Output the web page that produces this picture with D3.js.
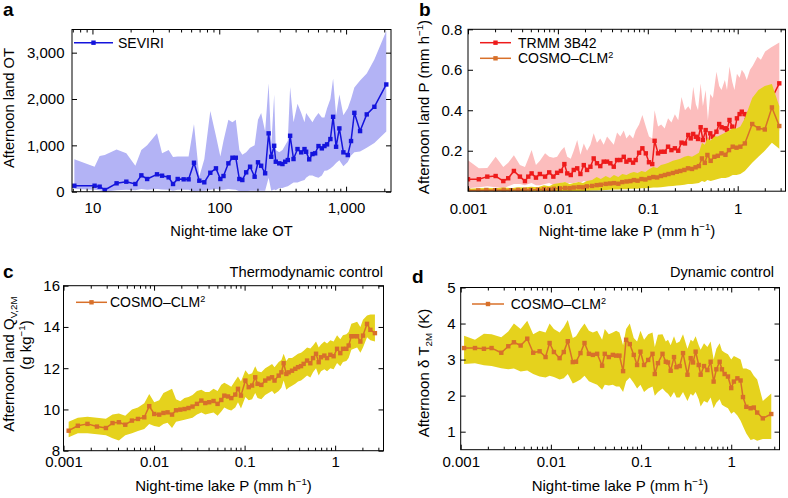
<!DOCTYPE html>
<html><head><meta charset="utf-8">
<script src="https://cdn.jsdelivr.net/npm/d3@7"></script>
<style>
body{margin:0;background:#fff}
svg{display:block}
text{font-family:"Liberation Sans",Arial,Helvetica,sans-serif}
</style>
</head><body>
<svg id="fig" width="788" height="498"></svg>
<script>
// ---------- Panel a : SEVIRI ----------
const seviriX = [7.2,10.4,11.4,12.5,15.5,18.5,21.8,24.3,27,32.3,35.4,39.9,43.2,47,52.4,57.3,63.2,69.6,76.2,85,94.2,102,108,118,127,135,144,152,163,175,190,202,214,230,245,257,271,279,297,315,331,347,362,385,414,443,470,484,512,543,570,606,644,675,708,752,790,834,885,952,1031,1094,1162,1289,1455,1671,2075];
const seviriY = [129,129,108,37,181,216,166,353,274,375,345,310,166,274,267,267,625,237,203,409,504,274,338,612,733,733,274,252,418,539,323,634,560,397,1259,754,991,647,612,597,647,683,1207,705,920,849,920,862,698,812,828,985,935,985,1021,1136,1616,970,1366,849,791,1093,1702,1308,1668,1832,2314];
const seviriLo = [60,40,30,0,30,40,30,60,40,60,50,40,20,40,40,40,0,20,20,40,60,40,40,60,50,40,10,10,10,20,20,20,20,20,300,20,50,30,80,80,100,120,150,200,200,230,250,300,350,350,320,300,350,450,460,500,550,620,680,550,640,780,850,870,950,1050,1300];
const seviriHi = [700,540,770,790,910,830,560,900,1000,1260,830,900,750,760,760,760,1460,330,700,1740,1200,760,1100,1550,1500,1550,900,800,850,950,1000,1550,1700,1300,2340,1000,2100,900,850,900,1000,1100,2260,1500,1900,1700,1500,1700,1600,1500,1600,1700,1600,1600,1800,2000,2440,1650,2100,1650,1800,2000,2250,2400,2550,2850,3470];
const aXTicks = [10,100,1000];
const aYTicks = [0,1000,2000,3000];

// ---------- Panel b : TRMM 3B42 and COSMO-CLM2 ----------
const trmmX = [0.001,0.00132,0.00164,0.00203,0.00247,0.0028,0.00324,0.00378,0.0043,0.00468,0.0051,0.0057,0.0063,0.0072,0.008,0.0089,0.0098,0.0108,0.0118,0.0127,0.0139,0.015,0.0164,0.0178,0.0194,0.0211,0.023,0.025,0.0272,0.0296,0.0323,0.0352,0.0383,0.0418,0.0455,0.0495,0.054,0.0578,0.0627,0.0686,0.0733,0.08,0.087,0.095,0.103,0.112,0.119,0.13,0.141,0.154,0.168,0.183,0.2,0.218,0.237,0.259,0.282,0.3,0.32,0.342,0.362,0.387,0.41,0.44,0.466,0.495,0.53,0.58,0.622,0.66,0.72,0.76,0.81,0.87,0.92,0.98,1.05,1.11,1.19,1.26,1.37,1.47,1.66,1.81,2.02,2.34,2.9];
const trmmY = [0.059,0.059,0.072,0.075,0.05,0.064,0.1,0.072,0.05,0.072,0.088,0.067,0.085,0.072,0.093,0.072,0.091,0.1,0.134,0.088,0.08,0.105,0.113,0.085,0.129,0.105,0.121,0.162,0.138,0.124,0.146,0.146,0.138,0.121,0.154,0.154,0.17,0.146,0.154,0.141,0.154,0.19,0.212,0.187,0.143,0.134,0.249,0.187,0.195,0.195,0.22,0.203,0.212,0.2,0.24,0.236,0.278,0.261,0.283,0.269,0.258,0.316,0.253,0.302,0.212,0.286,0.269,0.294,0.332,0.316,0.311,0.302,0.352,0.319,0.294,0.36,0.381,0.393,0.381,0.352,0.385,0.38,0.418,0.434,0.459,0.45,0.533];
const trmmLo = [0.015,0.02,0.025,0.02,0.015,0.025,0.035,0.035,0.03,0.035,0.04,0.03,0.03,0.035,0.04,0.03,0.035,0.04,0.045,0.04,0.04,0.04,0.045,0.04,0.05,0.045,0.045,0.05,0.05,0.05,0.05,0.055,0.055,0.05,0.06,0.06,0.065,0.06,0.065,0.06,0.065,0.075,0.08,0.08,0.07,0.07,0.09,0.09,0.09,0.095,0.1,0.1,0.1,0.1,0.11,0.11,0.12,0.12,0.13,0.13,0.13,0.14,0.13,0.14,0.1,0.14,0.14,0.15,0.16,0.16,0.16,0.16,0.18,0.17,0.16,0.19,0.2,0.2,0.2,0.19,0.2,0.21,0.22,0.23,0.24,0.26,0.3];
const trmmHi = [0.153,0.113,0.115,0.17,0.12,0.14,0.178,0.13,0.12,0.16,0.203,0.13,0.15,0.187,0.17,0.165,0.17,0.2,0.219,0.17,0.16,0.2,0.253,0.18,0.236,0.2,0.23,0.286,0.24,0.26,0.23,0.27,0.25,0.23,0.29,0.27,0.3,0.26,0.28,0.26,0.3,0.33,0.376,0.32,0.27,0.26,0.4,0.32,0.33,0.31,0.36,0.34,0.38,0.35,0.466,0.4,0.42,0.4,0.516,0.43,0.4,0.532,0.42,0.5,0.35,0.48,0.46,0.59,0.52,0.5,0.55,0.5,0.616,0.54,0.5,0.58,0.56,0.6,0.58,0.55,0.6,0.62,0.664,0.65,0.69,0.71,0.735];
const cosmoBX = [0.001,0.0013,0.0016,0.002,0.0025,0.003,0.0036,0.0043,0.005,0.006,0.007,0.008,0.009,0.0105,0.012,0.0135,0.015,0.017,0.019,0.021,0.024,0.027,0.03,0.034,0.038,0.042,0.047,0.052,0.058,0.064,0.07,0.077,0.085,0.094,0.104,0.115,0.127,0.14,0.155,0.17,0.19,0.21,0.23,0.255,0.28,0.31,0.34,0.37,0.4,0.43,0.46,0.5,0.55,0.6,0.66,0.73,0.8,0.88,0.97,1.07,1.2,1.45,1.7,2.0,2.4,2.9];
const cosmoBY = [0.004,0.004,0.006,0.005,0.006,0.005,0.006,0.007,0.006,0.008,0.01,0.009,0.012,0.014,0.016,0.015,0.018,0.02,0.019,0.024,0.026,0.03,0.032,0.036,0.038,0.04,0.037,0.045,0.048,0.05,0.055,0.052,0.06,0.058,0.065,0.07,0.068,0.075,0.08,0.085,0.09,0.096,0.1,0.105,0.113,0.11,0.118,0.124,0.162,0.14,0.179,0.15,0.17,0.175,0.187,0.18,0.203,0.22,0.215,0.22,0.236,0.332,0.311,0.305,0.414,0.322];
const cosmoBLo = [0,0,0,0,0,0,0,0,0,0,0,0,0,0,0,0,0,0,0,0.002,0.003,0.004,0.005,0.006,0.007,0.008,0.008,0.01,0.01,0.012,0.012,0.012,0.014,0.014,0.016,0.018,0.018,0.02,0.022,0.024,0.026,0.028,0.03,0.032,0.035,0.035,0.038,0.04,0.05,0.045,0.055,0.05,0.055,0.06,0.065,0.065,0.07,0.08,0.08,0.085,0.1,0.14,0.17,0.2,0.24,0.21];
const cosmoBHi = [0.012,0.015,0.016,0.014,0.018,0.015,0.02,0.018,0.022,0.02,0.03,0.025,0.035,0.04,0.045,0.035,0.04,0.045,0.04,0.05,0.055,0.07,0.06,0.075,0.065,0.08,0.07,0.085,0.08,0.09,0.095,0.09,0.1,0.095,0.11,0.12,0.115,0.13,0.135,0.14,0.15,0.155,0.16,0.17,0.175,0.17,0.18,0.19,0.24,0.23,0.26,0.25,0.27,0.27,0.28,0.29,0.3,0.31,0.31,0.32,0.36,0.46,0.5,0.52,0.53,0.42];
const bYTicks = [0.2,0.4,0.6,0.8];

// ---------- Panel c : Q_V,2M ----------
const cX = [0.00114,0.00144,0.00184,0.00234,0.00294,0.00348,0.00409,0.00481,0.0057,0.00664,0.0078,0.00885,0.01005,0.0114,0.0127,0.0141,0.0158,0.0175,0.0195,0.0217,0.024,0.0266,0.0298,0.0333,0.0368,0.0407,0.0454,0.0503,0.0553,0.0597,0.0656,0.0713,0.0789,0.0845,0.0912,0.102,0.111,0.121,0.131,0.139,0.153,0.169,0.184,0.201,0.214,0.238,0.255,0.27,0.289,0.306,0.334,0.363,0.389,0.42,0.449,0.49,0.532,0.57,0.615,0.658,0.698,0.76,0.814,0.885,0.962,1.05,1.14,1.22,1.33,1.41,1.51,1.63,1.75,1.9,2.03,2.25,2.45,2.75];
const cY = [8.97,9.21,9.30,9.17,9.10,9.34,9.38,9.26,9.46,9.54,9.62,10.16,9.78,9.75,9.83,9.86,9.75,9.96,9.99,10.02,10.07,10.14,10.27,10.43,10.31,10.35,10.41,10.27,10.46,10.67,10.63,10.55,10.72,11.0,10.67,11.4,11.08,11.16,11.56,11.24,11.19,11.4,11.5,11.56,11.4,11.64,11.8,12.24,11.72,11.8,11.88,11.97,12.05,12.1,12.21,12.37,12.24,12.49,12.7,12.29,12.53,12.61,12.49,12.65,12.58,12.94,12.73,12.94,12.94,13.1,13.55,13.55,13.55,13.29,13.58,14.15,13.86,13.7];
const cLo = [8.65,8.85,8.85,8.8,8.75,8.6,8.5,8.75,8.85,8.95,9.05,9.3,9.2,9.15,9.3,9.35,9.1,9.4,9.45,9.5,9.55,9.6,9.75,9.85,9.75,9.8,9.85,9.7,9.9,10.1,10.0,9.95,10.1,10.35,10.05,10.6,10.45,10.5,10.8,10.55,10.5,10.7,10.8,10.9,10.75,10.9,11.05,11.4,10.95,11.05,11.15,11.25,11.35,11.4,11.5,11.65,11.55,11.8,12.0,11.65,11.85,11.95,11.85,12.0,11.95,12.25,12.1,12.3,12.35,12.5,12.9,12.95,13.0,12.75,13.0,13.5,13.35,13.3];
const cHi = [9.4,9.6,9.65,9.6,9.55,9.75,9.8,9.7,10.0,10.1,10.3,10.75,10.35,10.45,10.8,10.9,11.0,10.5,10.4,10.55,10.6,10.7,10.9,10.95,10.85,10.85,11.0,10.9,11.2,11.3,11.2,11.1,11.4,11.6,11.35,11.9,11.7,11.75,12.1,11.85,11.8,12.0,12.1,12.2,12.05,12.3,12.4,12.7,12.35,12.5,12.5,12.6,12.7,12.75,12.85,13.0,12.95,13.1,13.3,13.0,13.15,13.3,13.2,13.35,13.3,13.6,13.4,13.6,13.65,13.75,14.15,14.2,14.25,14.0,14.35,14.55,14.6,14.6];
const cYTicks = [8,10,12,14,16];

// ---------- Panel d : delta T_2M ----------
const dX = [0.00109,0.00144,0.00181,0.0022,0.00282,0.00337,0.00389,0.00462,0.00547,0.00637,0.0075,0.00873,0.00968,0.0108,0.0125,0.0139,0.0154,0.0175,0.019,0.0213,0.0236,0.0264,0.0292,0.0326,0.037,0.0396,0.0439,0.0486,0.0529,0.0576,0.0632,0.0683,0.075,0.083,0.0904,0.0985,0.108,0.12,0.134,0.142,0.154,0.173,0.188,0.199,0.213,0.232,0.247,0.268,0.292,0.327,0.355,0.377,0.403,0.436,0.458,0.499,0.544,0.591,0.638,0.684,0.744,0.789,0.845,0.92,1.0,1.07,1.17,1.27,1.35,1.47,1.64,1.78,1.94,2.24,2.78];
const dY = [3.32,3.32,3.30,3.32,3.19,3.37,3.48,3.39,3.58,3.19,3.23,3.07,3.46,3.21,3.04,3.21,3.51,2.93,2.94,3.18,3.46,3.16,3.13,3.16,2.83,3.16,3.07,3.13,3.11,3.11,2.68,3.55,3.43,3.13,2.85,3.22,2.85,2.99,3.16,2.6,2.9,3.16,2.94,2.92,2.69,3.07,2.79,2.82,3.18,2.58,3.04,2.92,3.22,2.85,2.58,2.82,2.71,2.94,2.39,2.73,2.94,2.73,2.6,2.53,2.21,2.39,2.48,2.42,1.96,1.69,1.65,1.67,1.53,1.37,1.49];
const dLo = [2.88,2.9,2.84,2.82,2.76,2.73,2.75,2.67,2.7,2.6,2.53,2.5,2.55,2.52,2.45,2.48,2.6,2.34,2.38,2.45,2.55,2.4,2.35,2.3,2.16,2.3,2.28,2.3,2.25,2.25,2.1,2.4,2.5,2.35,2.2,2.3,2.1,2.2,2.25,2.0,2.1,2.2,2.1,2.05,1.95,2.1,1.95,1.95,2.1,1.85,2.05,2.0,2.1,1.9,1.7,1.85,1.8,1.95,1.65,1.8,1.9,1.75,1.7,1.65,1.5,1.55,1.45,1.3,1.15,0.95,0.77,0.8,0.75,0.8,0.8];
const dHi = [3.66,3.55,3.72,3.7,3.62,3.78,4.0,3.85,4.08,3.7,3.8,3.75,4.0,3.85,3.75,3.9,4.1,3.6,3.65,3.85,4.0,3.8,3.75,3.8,3.55,3.85,3.7,3.75,3.8,3.75,3.4,3.85,4.0,3.6,3.5,3.8,3.55,3.7,3.75,3.35,3.69,3.7,3.5,3.55,3.4,3.65,3.45,3.5,3.7,3.3,3.55,3.5,3.65,3.4,3.27,3.45,3.35,3.5,3.0,3.3,3.45,3.25,3.2,3.15,3.0,3.1,3.05,3.0,2.75,2.75,2.7,2.55,2.45,1.85,2.06];
const dYTicks = [1,2,3,4,5];

const pXTicks = [0.001,0.01,0.1,1];
const pXLabels = ["0.001","0.01","0.1","1"];

// ---------- colours ----------
const C_BLUE = "#1414dc", C_BLUE_BAND = "#b3b3f5";
const C_RED = "#ee1b1b", C_PINK = "#fcbdbd";
const C_ORANGE = "#d8702a", C_YELLOW = "#e5d21d";
const FONT = '"Liberation Sans", Arial, Helvetica, sans-serif';
const TICK_FS = 15, TITLE_FS = 15, LEG_FS = 14;

const svg = d3.select("#fig");

function rich(sel, parts, size) {
  parts.forEach(p => {
    const t = sel.append("tspan").text(p.t);
    if (p.sup) t.attr("font-size", size*0.65).attr("dy", -size*0.38);
    else if (p.sub) t.attr("font-size", size*0.65).attr("dy", size*0.22);
    if (p.back !== undefined) t.attr("dy", p.back*size);
  });
}

function logMinor(dom) {
  const out = [];
  for (let e = Math.floor(Math.log10(dom[0])); e <= Math.ceil(Math.log10(dom[1])); e++)
    for (let k = 2; k <= 9; k++) { const v = k*Math.pow(10,e); if (v >= dom[0] && v <= dom[1]) out.push(v); }
  return out;
}

function styleAxis(g) {
  g.select(".domain").remove();
  g.attr("font-family", FONT).attr("font-size", TICK_FS);
  g.selectAll("line").attr("stroke", "#000");
  g.selectAll("text").attr("fill", "#000");
}

function drawPanel(p) {
  const x = d3.scaleLog().domain(p.xDomain).range([p.left, p.right]);
  const y = d3.scaleLinear().domain(p.yDomain).range([p.bottom, p.top]);
  const g = svg.append("g");
  const clipId = "clip-" + p.id;
  svg.append("clipPath").attr("id", clipId).append("rect")
    .attr("x", p.left).attr("y", p.top).attr("width", p.right - p.left).attr("height", p.bottom - p.top);
  const plot = g.append("g").attr("clip-path", `url(#${clipId})`);

  p.layers.forEach(L => {
    if (L.type === "band") {
      const area = d3.area().x((d,i) => x(L.x[i])).y0((d,i) => y(L.lo[i])).y1((d,i) => y(L.hi[i]));
      plot.append("path").datum(L.x).attr("d", area).attr("fill", L.color);
    } else {
      const line = d3.line().x((d,i) => x(L.x[i])).y((d,i) => y(L.y[i]));
      plot.append("path").datum(L.x).attr("d", line).attr("fill", "none")
        .attr("stroke", L.color).attr("stroke-width", 1.5).attr("stroke-linejoin", "round");
      const s = 4.4;
      plot.append("g").selectAll("rect").data(L.x).enter().append("rect")
        .attr("x", (d,i) => x(L.x[i]) - s/2).attr("y", (d,i) => y(L.y[i]) - s/2)
        .attr("width", s).attr("height", s).attr("fill", L.color);
    }
  });

  // axes (inward ticks on all four sides)
  const minor = logMinor(p.xDomain);
  const bot = g.append("g").attr("transform", `translate(0,${p.bottom})`)
    .call(d3.axisBottom(x).tickValues(p.xTicks).tickFormat((d,i) => p.xLabels[i]).tickSize(-5).tickPadding(p.xPad));
  styleAxis(bot);
  const botMin = g.append("g").attr("transform", `translate(0,${p.bottom})`)
    .call(d3.axisBottom(x).tickValues(minor).tickFormat("").tickSize(-3));
  styleAxis(botMin);
  const top = g.append("g").attr("transform", `translate(0,${p.top})`)
    .call(d3.axisTop(x).tickValues(p.xTicks).tickFormat("").tickSize(-5));
  styleAxis(top);
  const topMin = g.append("g").attr("transform", `translate(0,${p.top})`)
    .call(d3.axisTop(x).tickValues(minor).tickFormat("").tickSize(-3));
  styleAxis(topMin);
  const left = g.append("g").attr("transform", `translate(${p.left},0)`)
    .call(d3.axisLeft(y).tickValues(p.yTicks).tickFormat(p.yFmt).tickSize(-5).tickPadding(p.yPad));
  styleAxis(left);
  const right = g.append("g").attr("transform", `translate(${p.right},0)`)
    .call(d3.axisRight(y).tickValues(p.yTicks).tickFormat("").tickSize(-5));
  styleAxis(right);

  g.append("rect").attr("x", p.left).attr("y", p.top)
    .attr("width", p.right - p.left).attr("height", p.bottom - p.top)
    .attr("fill", "none").attr("stroke", "#000").attr("stroke-width", 1);

  // legend
  p.legend.forEach(l => {
    g.append("line").attr("x1", l.x1).attr("x2", l.x2).attr("y1", l.y).attr("y2", l.y)
      .attr("stroke", l.color).attr("stroke-width", 1.5);
    g.append("rect").attr("x", (l.x1 + l.x2)/2 - 2.2).attr("y", l.y - 2.2).attr("width", 4.4).attr("height", 4.4).attr("fill", l.color);
    const t = g.append("text").attr("x", l.tx).attr("y", l.y + 5).attr("font-size", LEG_FS).attr("fill", "#000");
    rich(t, l.parts, LEG_FS);
  });

  // x title
  const xt = g.append("text").attr("x", p.xTitle.x).attr("y", p.xTitle.y)
    .attr("text-anchor", "middle").attr("font-size", p.titleFs).attr("fill", "#000");
  rich(xt, p.xTitle.parts, p.titleFs);
  // y title(s)
  p.yTitles.forEach(yt => {
    const t = g.append("text").attr("transform", `translate(${yt.x},${yt.y}) rotate(-90)`)
      .attr("text-anchor", "middle").attr("font-size", p.titleFs).attr("fill", "#000");
    rich(t, yt.parts, p.titleFs);
  });
  // panel letter
  g.append("text").attr("x", p.letter.x).attr("y", p.letter.y).attr("font-size", 19)
    .attr("font-weight", "bold").attr("fill", "#000").text(p.letter.t);
  if (p.note) {
    g.append("text").attr("x", p.note.x).attr("y", p.note.y).attr("text-anchor", "end")
      .attr("font-size", p.note.fs).attr("fill", "#000").text(p.note.t);
  }
}

const mmh = [{t:"Night-time lake P (mm h"},{t:"\u22121", sup:true},{t:")", back:0.38}];
const cosmoLegend = [{t:"COSMO\u2013CLM"},{t:"2", sup:true}];

drawPanel({
  id:"a", left:72, right:391, top:29.5, bottom:191.7,
  xDomain:[6.9, 2260], yDomain:[0, 3500],
  xTicks:aXTicks, xLabels:aXTicks.map(d3.format(",")), xPad:10.5,
  yTicks:aYTicks, yFmt:d3.format(","), yPad:7.5,
  titleFs:14.7,
  layers:[
    {type:"band", x:seviriX, lo:seviriLo, hi:seviriHi, color:C_BLUE_BAND},
    {type:"line", x:seviriX, y:seviriY, color:C_BLUE}
  ],
  legend:[{x1:74, x2:113, y:42.7, tx:118, color:C_BLUE, parts:[{t:"SEVIRI"}]}],
  xTitle:{x:231.5, y:236, parts:[{t:"Night-time lake OT"}]},
  yTitles:[{x:13.5, y:108, parts:[{t:"Afternoon land OT"}]}],
  letter:{x:3, y:16, t:"a"}
});

drawPanel({
  id:"b", left:468, right:785.5, top:29.3, bottom:191.2,
  xDomain:[0.001, 3.4], yDomain:[0, 0.8],
  xTicks:pXTicks, xLabels:pXLabels, xPad:12.5,
  yTicks:bYTicks, yFmt:d3.format(".1f"), yPad:5.7,
  titleFs:TITLE_FS,
  layers:[
    {type:"band", x:trmmX, lo:trmmLo, hi:trmmHi, color:C_PINK},
    {type:"line", x:trmmX, y:trmmY, color:C_RED},
    {type:"band", x:cosmoBX, lo:cosmoBLo, hi:cosmoBHi, color:C_YELLOW},
    {type:"line", x:cosmoBX, y:cosmoBY, color:C_ORANGE}
  ],
  legend:[
    {x1:480, x2:511, y:42.7, tx:518, color:C_RED, parts:[{t:"TRMM 3B42"}]},
    {x1:480, x2:511, y:58.3, tx:518, color:C_ORANGE, parts:cosmoLegend}
  ],
  xTitle:{x:627, y:236, parts:mmh},
  yTitles:[{x:429, y:107, parts:[{t:"Afternoon land P (mm h"},{t:"\u22121", sup:true},{t:")", back:0.38}]}],
  letter:{x:419, y:16, t:"b"}
});

drawPanel({
  id:"c", left:63.5, right:383.5, top:285.7, bottom:450.7,
  xDomain:[0.001, 3.42], yDomain:[8, 16],
  xTicks:pXTicks, xLabels:pXLabels, xPad:5.5,
  yTicks:cYTicks, yFmt:d3.format("d"), yPad:3.5,
  titleFs:TITLE_FS,
  layers:[
    {type:"band", x:cX, lo:cLo, hi:cHi, color:C_YELLOW},
    {type:"line", x:cX, y:cY, color:C_ORANGE}
  ],
  legend:[{x1:76, x2:107, y:302.3, tx:110, color:C_ORANGE, parts:cosmoLegend}],
  xTitle:{x:223.5, y:491, parts:mmh},
  yTitles:[
    {x:13.5, y:364, parts:[{t:"Afternoon land Q"},{t:"V,2M", sub:true}]},
    {x:30.5, y:345, parts:[{t:"(g kg"},{t:"\u22121", sup:true},{t:")", back:0.38}]}
  ],
  letter:{x:3, y:278, t:"c"},
  note:{x:383, y:277, t:"Thermodynamic control", fs:14.7}
});

drawPanel({
  id:"d", left:460.7, right:779.5, top:287.5, bottom:449.7,
  xDomain:[0.001, 3.43], yDomain:[0.5, 5],
  xTicks:pXTicks, xLabels:pXLabels, xPad:7,
  yTicks:dYTicks, yFmt:d3.format("d"), yPad:5,
  titleFs:TITLE_FS,
  layers:[
    {type:"band", x:dX, lo:dLo, hi:dHi, color:C_YELLOW},
    {type:"line", x:dX, y:dY, color:C_ORANGE}
  ],
  legend:[{x1:472, x2:504, y:304, tx:510.7, color:C_ORANGE, parts:cosmoLegend}],
  xTitle:{x:620, y:491, parts:mmh},
  yTitles:[{x:428.5, y:373, parts:[{t:"Afternoon \u03B4 T"},{t:"2M", sub:true},{t:" (K)", back:-0.22}]}],
  letter:{x:412, y:283, t:"d"},
  note:{x:774, y:277, t:"Dynamic control", fs:14.5}
});
</script>
</body></html>
